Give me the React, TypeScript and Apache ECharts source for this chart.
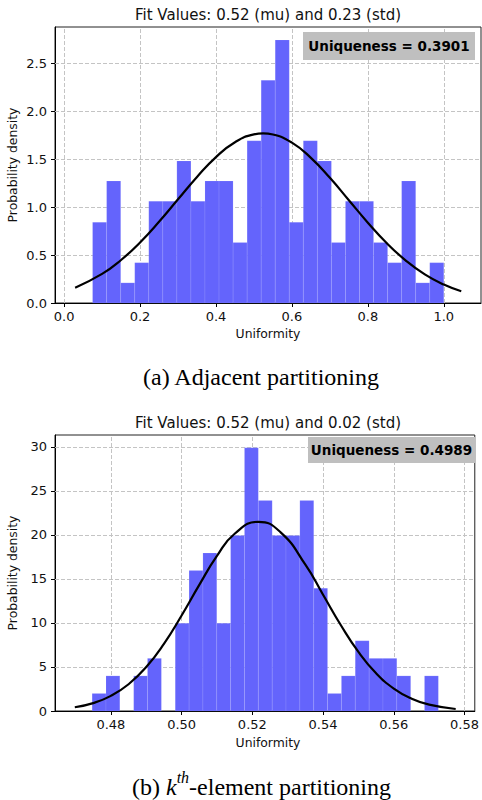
import React, { useEffect, useRef } from "react";
import * as echarts from "echarts";

// ---------- Data ----------
// (a) Adjacent partitioning
const edgesA = [0.075, 0.112, 0.149, 0.186, 0.223, 0.26, 0.297, 0.334, 0.371, 0.408, 0.445, 0.482, 0.519, 0.556, 0.593, 0.63, 0.667, 0.704, 0.741, 0.778, 0.815, 0.852, 0.889, 0.926, 0.963, 1.0];
const densityA = [0.84, 1.27, 0.21, 0.42, 1.06, 1.06, 1.48, 1.06, 1.27, 1.27, 0.63, 1.69, 2.32, 2.74, 0.84, 1.69, 1.48, 0.63, 1.06, 1.06, 0.63, 0.42, 1.27, 0.21, 0.42];
const fitAx = [0.029, 0.1, 0.15, 0.2, 0.25, 0.3, 0.35, 0.4, 0.45, 0.5, 0.524, 0.55, 0.6, 0.65, 0.7, 0.75, 0.8, 0.85, 0.9, 0.95, 1.0, 1.046];
const fitAy = [0.16, 0.303, 0.448, 0.631, 0.846, 1.08, 1.313, 1.52, 1.675, 1.757, 1.767, 1.755, 1.67, 1.512, 1.304, 1.071, 0.837, 0.623, 0.442, 0.298, 0.192, 0.122];
const xTicksA = [0, 0.2, 0.4, 0.6, 0.8, 1.0];
const yTicksA = [0, 0.5, 1.0, 1.5, 2.0, 2.5];
const titleA = "Fit Values: 0.52 (mu) and 0.23 (std)";
const uniqA = "Uniqueness = 0.3901";

// (b) kth-element partitioning
const edgesB = [0.4747, 0.47862, 0.48253, 0.48645, 0.49036, 0.49428, 0.4982, 0.50211, 0.50603, 0.50994, 0.51386, 0.51778, 0.52169, 0.52561, 0.52952, 0.53344, 0.53736, 0.54127, 0.54519, 0.5491, 0.55302, 0.55694, 0.56085, 0.56477, 0.56868, 0.5726];
const densityB = [1.99, 3.99, 0, 3.99, 5.98, 0, 9.97, 15.95, 17.94, 9.97, 19.94, 29.91, 23.93, 19.94, 19.94, 23.93, 13.96, 1.99, 3.99, 7.98, 5.98, 5.98, 3.99, 0, 3.99];
const fitBx = [0.4698, 0.475, 0.48, 0.485, 0.49, 0.495, 0.5, 0.505, 0.51, 0.515, 0.5217, 0.528, 0.535, 0.54, 0.545, 0.55, 0.555, 0.56, 0.565, 0.57, 0.5775];
const fitBy = [0.43, 0.9, 1.72, 3.04, 4.99, 7.63, 10.85, 14.33, 17.62, 20.14, 21.5, 20.3, 16.63, 13.21, 9.77, 6.71, 4.29, 2.55, 1.41, 0.72, 0.23];
const xTicksB = [0.48, 0.5, 0.52, 0.54, 0.56, 0.58];
const yTicksB = [0, 5, 10, 15, 20, 25, 30];
const titleB = "Fit Values: 0.52 (mu) and 0.02 (std)";
const uniqB = "Uniqueness = 0.4989";

const SANS = "DejaVu Sans";
const SERIF = "Liberation Serif";

function bins(edges: number[], dens: number[]) {
  return dens.map((d, i) => [edges[i], edges[i + 1], d]);
}
function pairs(xs: number[], ys: number[]) {
  return xs.map((x, i) => [x, ys[i]]);
}

function xAxisDef(gridIndex: number, min: number, max: number, ticks: number[], digits: number) {
  return {
    type: "value",
    gridIndex,
    min,
    max,
    axisLine: { show: true, onZero: false, lineStyle: { color: "#000", width: 1 } },
    axisTick: { show: true, length: 4, inside: false, customValues: ticks, lineStyle: { color: "#000", width: 1 } },
    axisLabel: {
      show: true,
      customValues: ticks,
      margin: 7,
      fontSize: 13,
      fontFamily: SANS,
      color: "#111",
      formatter: (v: number) => v.toFixed(digits),
    },
    splitLine: { show: false },
  };
}
function yAxisDef(gridIndex: number, min: number, max: number, ticks: number[], digits: number) {
  return {
    type: "value",
    gridIndex,
    min,
    max,
    axisLine: { show: true, onZero: false, lineStyle: { color: "#000", width: 1 } },
    axisTick: { show: true, length: 4, inside: false, customValues: ticks, lineStyle: { color: "#000", width: 1 } },
    axisLabel: {
      show: true,
      customValues: ticks,
      margin: 8,
      fontSize: 13,
      fontFamily: SANS,
      color: "#111",
      formatter: (v: number) => v.toFixed(digits),
    },
    splitLine: { show: false },
  };
}

function histSeries(xAxisIndex: number, yAxisIndex: number, data: number[][]) {
  return {
    type: "custom",
    xAxisIndex,
    yAxisIndex,
    z: 10,
    encode: { x: [0, 1], y: 2 },
    data,
    renderItem: (params: any, api: any) => {
      const x0 = api.value(0);
      const x1 = api.value(1);
      const h = api.value(2);
      if (!h) return null;
      const p0 = api.coord([x0, h]);
      const p1 = api.coord([x1, 0]);
      return {
        type: "rect",
        shape: { x: p0[0], y: p0[1], width: p1[0] - p0[0], height: p1[1] - p0[1] },
        style: { fill: "#6464fc", stroke: "rgba(255,255,255,0.16)", lineWidth: 0.6 },
      };
    },
  };
}

function gridLinesSeries(xAxisIndex: number, yAxisIndex: number, xs: number[], ys: number[]) {
  return {
    type: "line",
    xAxisIndex,
    yAxisIndex,
    z: 1,
    data: [],
    silent: true,
    markLine: {
      silent: true,
      z: 1,
      symbol: "none",
      animation: false,
      label: { show: false },
      lineStyle: { color: "#c4c4c4", width: 1, type: [4, 2] },
      data: [
        ...xs.map((v) => ({ xAxis: v })),
        ...ys.filter((v) => v !== 0).map((v) => ({ yAxis: v })),
      ],
    },
  };
}

function fitSeries(xAxisIndex: number, yAxisIndex: number, data: number[][]) {
  return {
    type: "line",
    xAxisIndex,
    yAxisIndex,
    z: 12,
    data,
    smooth: true,
    showSymbol: false,
    symbol: "none",
    lineStyle: { color: "#000", width: 2.2 },
  };
}

function annot(x: number, y: number, w: number, h: number, text: string) {
  return [
    { type: "rect", z: 100, shape: { x, y, width: w, height: h }, style: { fill: "#bfbfbf" } },
    {
      type: "text",
      z: 101,
      x: x + w / 2,
      y: y + h / 2,
      style: { text, fill: "#000", font: `bold 13.5px '${SANS}'`, align: "center", verticalAlign: "middle" },
    },
  ];
}

function txt(x: number, y: number, text: string, size: number, family = SANS, rotation = 0) {
  return {
    type: "text",
    x,
    y,
    rotation,
    z: 100,
    style: { text, fill: "#111", fontSize: size, fontFamily: family, align: "center", verticalAlign: "middle" },
  };
}

export default function App() {
  const ref = useRef<HTMLDivElement>(null);
  useEffect(() => {
    if (!ref.current) return;
    const chart = echarts.init(ref.current, undefined, { renderer: "svg" });
    const option: any = {
      animation: false,
      backgroundColor: "#fff",
      grid: [
        { left: 55, top: 27, width: 426, height: 276, show: true, borderColor: "#222", borderWidth: 1, backgroundColor: "transparent" },
        { left: 55, top: 435, width: 426, height: 276, show: true, borderColor: "#222", borderWidth: 1, backgroundColor: "transparent" },
      ],
      xAxis: [xAxisDef(0, -0.024, 1.098, xTicksA, 1), xAxisDef(1, 0.4642, 0.5829, xTicksB, 2)],
      yAxis: [yAxisDef(0, 0, 2.875, yTicksA, 1), yAxisDef(1, 0, 31.36, yTicksB, 0)],
      series: [
        gridLinesSeries(0, 0, xTicksA, yTicksA),
        histSeries(0, 0, bins(edgesA, densityA)),
        fitSeries(0, 0, pairs(fitAx, fitAy)),
        gridLinesSeries(1, 1, xTicksB, yTicksB),
        histSeries(1, 1, bins(edgesB, densityB)),
        fitSeries(1, 1, pairs(fitBx, fitBy)),
      ],
      graphic: {
        z: 100,
        elements: [
          txt(268, 15, titleA, 15),
          txt(268, 422.5, titleB, 15),
          txt(268, 333.5, "Uniformity", 12.4),
          txt(268, 742, "Uniformity", 12.4),
          txt(12.5, 165, "Probability density", 12.4, SANS, Math.PI / 2),
          txt(12.5, 573, "Probability density", 12.4, SANS, Math.PI / 2),
          ...annot(303, 32, 172, 28, uniqA),
          ...annot(308, 437, 167, 26, uniqB),
          {
            type: "text",
            x: 261,
            y: 377,
            z: 100,
            style: { text: "(a) Adjacent partitioning", fill: "#000", fontSize: 24, fontFamily: SERIF, align: "center", verticalAlign: "middle" },
          },
          {
            type: "text",
            x: 261.5,
            y: 784,
            z: 100,
            style: {
              text: "{n|(b) }{k|k}{s|th}{n|-element partitioning}",
              align: "center",
              verticalAlign: "middle",
              rich: {
                n: { fill: "#000", fontSize: 24, fontFamily: SERIF, lineHeight: 30, verticalAlign: "bottom" },
                k: { fill: "#000", fontSize: 24, fontFamily: SERIF, fontStyle: "italic", lineHeight: 30, verticalAlign: "bottom" },
                s: { fill: "#000", fontSize: 16, fontFamily: SERIF, fontStyle: "italic", lineHeight: 18, verticalAlign: "top" },
              },
            },
          },
        ],
      },
    };
    chart.setOption(option);
    return () => chart.dispose();
  }, []);
  return <div ref={ref} style={{ position: "absolute", left: 0, top: 0, width: 482, height: 800 }} />;
}
